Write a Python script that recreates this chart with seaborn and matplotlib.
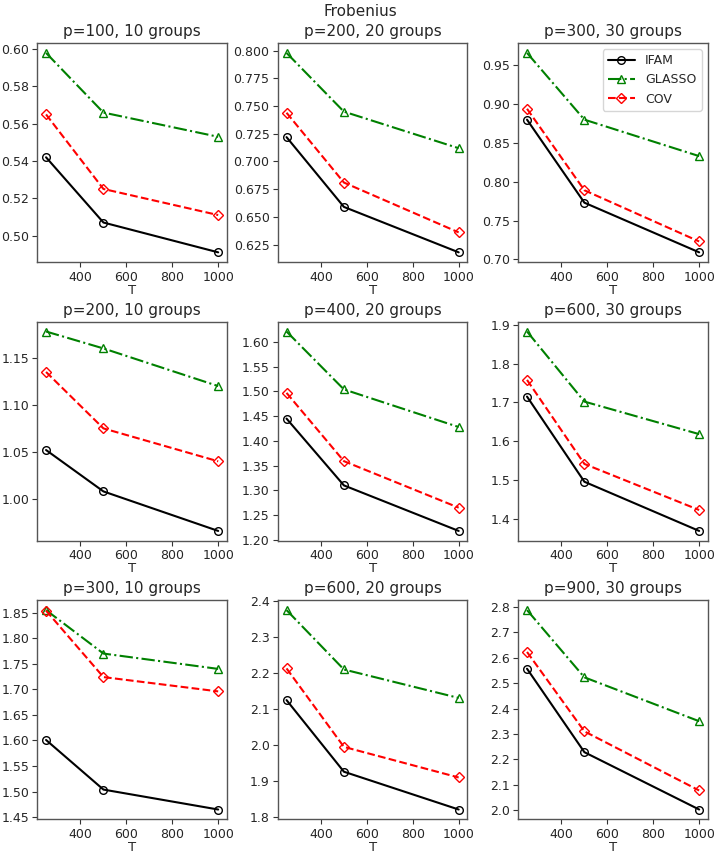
import pandas as pd
import matplotlib.pyplot as plt
from matplotlib.ticker import MultipleLocator
import seaborn as sns

sns.set_style('ticks')
plt.rcParams['font.family'] = ['DejaVu Sans']

T = [250, 500, 1000]
titles = ['p=100, 10 groups', 'p=200, 20 groups', 'p=300, 30 groups',
          'p=200, 10 groups', 'p=400, 20 groups', 'p=600, 30 groups',
          'p=300, 10 groups', 'p=600, 20 groups', 'p=900, 30 groups']
ystep = [0.02, 0.025, 0.05, 0.05, 0.05, 0.1, 0.05, 0.1, 0.1]

ifam = [[0.542, 0.507, 0.491], [0.722, 0.659, 0.618], [0.880, 0.773, 0.709],
        [1.052, 1.008, 0.966], [1.445, 1.310, 1.218], [1.715, 1.495, 1.368],
        [1.601, 1.504, 1.465], [2.125, 1.926, 1.821], [2.557, 2.228, 2.002]]
glasso = [[0.598, 0.566, 0.553], [0.798, 0.745, 0.712], [0.966, 0.880, 0.833],
          [1.178, 1.160, 1.120], [1.621, 1.504, 1.428], [1.883, 1.702, 1.618],
          [1.855, 1.770, 1.740], [2.375, 2.210, 2.131], [2.788, 2.523, 2.350]]
cov = [[0.565, 0.525, 0.511], [0.744, 0.681, 0.636], [0.894, 0.789, 0.723],
       [1.135, 1.075, 1.040], [1.497, 1.359, 1.265], [1.758, 1.541, 1.422],
       [1.854, 1.724, 1.696], [2.213, 1.995, 1.910], [2.623, 2.310, 2.077]]

methods = ['IFAM', 'GLASSO', 'COV']
styles = {'IFAM': ('black', '-', 'o'),
          'GLASSO': ('green', '-.', '^'),
          'COV': ('red', '--', 'D')}

rows = []
for i, title in enumerate(titles):
    for name, vals in zip(methods, [ifam, glasso, cov]):
        for t, v in zip(T, vals[i]):
            rows.append({'panel': title, 'method': name, 'T': t, 'value': v})
df = pd.DataFrame(rows)

fig, axes = plt.subplots(3, 3, figsize=(7.2, 8.59), dpi=100)
for i, ax in enumerate(axes.flat):
    sub = df[df['panel'] == titles[i]]
    for name in methods:
        c, ls, mk = styles[name]
        sns.lineplot(data=sub[sub['method'] == name], x='T', y='value', ax=ax,
                     color=c, linestyle=ls, marker=mk, markerfacecolor='none',
                     markeredgecolor=c, markeredgewidth=1.0,
                     markersize=5.5 if mk != 'D' else 5, linewidth=1.5,
                     label=name if i == 2 else None)
    ax.set_title(titles[i], fontsize=11, pad=5)
    ax.set_xlabel('T', fontsize=9.5, labelpad=0)
    ax.set_ylabel('')
    ax.set_xticks([400, 600, 800, 1000])
    ax.yaxis.set_major_locator(MultipleLocator(ystep[i]))
    ax.tick_params(labelsize=9, length=3.5, pad=2.5, color='#333333')
    for s in ax.spines.values():
        s.set_color('#555555')
        s.set_linewidth(1.0)
    if i == 2:
        ax.legend(loc='upper right', fontsize=9, frameon=True,
                  edgecolor='#cccccc', handlelength=2.2)
    elif ax.get_legend() is not None:
        ax.get_legend().remove()

fig.suptitle('Frobenius', fontsize=11, y=0.995)
plt.subplots_adjust(left=0.052, right=0.983, top=0.950, bottom=0.046,
                    wspace=0.27, hspace=0.27)
plt.savefig('out.png', dpi=100)
